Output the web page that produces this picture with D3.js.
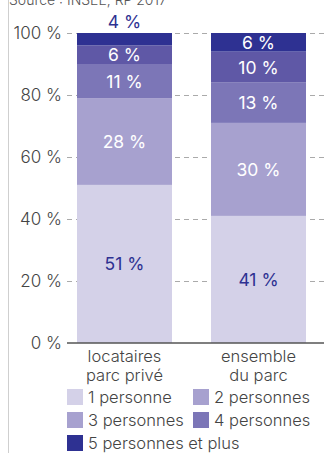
<!DOCTYPE html>
<html>
<head>
<meta charset="utf-8">
<script src="https://cdn.jsdelivr.net/npm/d3@7"></script>
<style>
  html, body { margin: 0; padding: 0; background: #fff; }
  svg { display: block; font-family: Inter, "Open Sans", sans-serif; }
</style>
</head>
<body>
<svg id="chart" width="324" height="453"></svg>
<script>
// Household size shares, in percent
const categories = [["locataires", "parc privé"], ["ensemble", "du parc"]];
const seriesNames = ["1 personne", "2 personnes", "3 personnes", "4 personnes", "5 personnes et plus"];
const locatairesParcPrive = [51, 28, 11, 6, 4];
const ensembleDuParc = [41, 30, 13, 10, 6];
const yTicks = [0, 20, 40, 60, 80, 100];

const barColors = ["#d4d1e8", "#a7a1cf", "#7c76b7", "#5f58a6", "#2e3192"];
const legendColors = ["#d4d1e8", "#a7a1cf", "#a7a1cf", "#7c76b7", "#2e3192"];
const labelColors = ["#2e3192", "#fff", "#fff", "#fff", "#fff"];

const svg = d3.select("#chart");
const W = 324;

const xPos = [77, 211];
const barW = 95;
const y = d3.scaleLinear().domain([0, 100]).range([343, 33]);

// left frame line
svg.append("line").attr("x1", 8.5).attr("x2", 8.5).attr("y1", 0).attr("y2", 453)
  .attr("stroke", "#cfcfcf").attr("stroke-width", 1);

// source
svg.append("text").attr("x", 9).attr("y", 5).attr("font-size", 14).attr("fill", "#555")
  .attr("font-weight", 300).text("Source : INSEE, RP 2017");

// y axis labels
const yAxis = d3.axisLeft(y).tickValues(yTicks).tickSize(0).tickPadding(5).tickFormat(d => d + " %");
const gAxis = svg.append("g").attr("transform", "translate(67,0)").call(yAxis);
gAxis.select(".domain").remove();
gAxis.selectAll("text").attr("font-size", 17).attr("fill", "#444")
  .attr("font-weight", 300).attr("font-family", "Inter, sans-serif");

// gridlines
svg.append("g").selectAll("line").data(yTicks.filter(d => d > 0)).join("line")
  .attr("x1", 67).attr("x2", W).attr("y1", d => y(d) + 0.5).attr("y2", d => y(d) + 0.5)
  .attr("stroke", "#aaa").attr("stroke-width", 1).attr("stroke-dasharray", "5,4");

// stacked bars
const data = [locatairesParcPrive, ensembleDuParc];
data.forEach((vals, ci) => {
  let acc = 0;
  const g = svg.append("g");
  vals.forEach((v, si) => {
    const y0 = acc, y1 = acc + v;
    acc = y1;
    g.append("rect").attr("x", xPos[ci]).attr("width", barW)
      .attr("y", y(y1)).attr("height", y(y0) - y(y1)).attr("fill", barColors[si]);
    const above = v < 5;
    const ly = above ? y(y1) - 12 : (y(y0) + y(y1)) / 2;
    g.append("text").attr("x", xPos[ci] + barW / 2).attr("y", ly)
      .attr("text-anchor", "middle").attr("dominant-baseline", "central")
      .attr("font-size", 17.5).attr("font-weight", 400)
      .attr("fill", above ? "#2e3192" : labelColors[si])
      .text(v + " %");
  });
});

// baseline
svg.append("line").attr("x1", 67).attr("x2", W).attr("y1", y(0)).attr("y2", y(0))
  .attr("stroke", "#555").attr("stroke-width", 1.5);

// category labels
categories.forEach((lines, ci) => {
  lines.forEach((t, li) => {
    svg.append("text").attr("x", xPos[ci] + barW / 2).attr("y", 362 + li * 19)
      .attr("text-anchor", "middle").attr("font-size", 16.5).attr("font-weight", 300)
      .attr("fill", "#444").text(t);
  });
});

// legend
const legendPos = [[67, 389], [193, 389], [67, 412], [193, 412], [67, 435]];
seriesNames.forEach((name, i) => {
  const [lx, ly] = legendPos[i];
  svg.append("rect").attr("x", lx).attr("y", ly).attr("width", 16).attr("height", 16).attr("fill", legendColors[i]);
  svg.append("text").attr("x", lx + 21).attr("y", ly + 8).attr("dominant-baseline", "central")
    .attr("font-size", 16.5).attr("font-weight", 300).attr("fill", "#444").text(name);
});
</script>
</body>
</html>
